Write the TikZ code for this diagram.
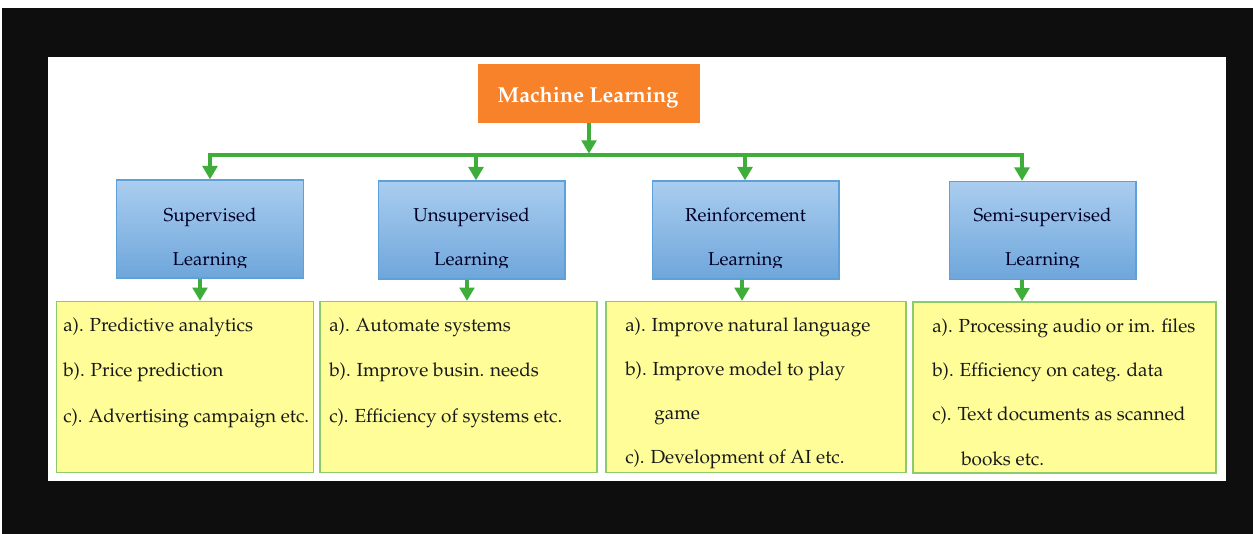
\documentclass[tikz,border=0pt]{standalone}
\usepackage[T1]{fontenc}
\renewcommand{\rmdefault}{ppl}
\usetikzlibrary{arrows.meta}
\definecolor{mlorange}{HTML}{F7822A}
\definecolor{agreen}{HTML}{3FAD3A}
\definecolor{bluetop}{HTML}{AACDEF}
\definecolor{bluebot}{HTML}{6EA6DB}
\definecolor{blueedge}{HTML}{5EA0DA}
\definecolor{yfill}{HTML}{FFFD98}
\definecolor{yedge}{HTML}{8CCB6A}
\definecolor{bg}{HTML}{0E0E0E}
\tikzset{
  px/.style={x=0.75pt,y=-0.75pt},
  mlbox/.style={fill=mlorange,draw=none,minimum width=166.5pt,minimum height=44pt,inner sep=0pt},
  bluebox/.style={draw=blueedge,line width=1pt,top color=bluetop,bottom color=bluebot,minimum width=140pt,minimum height=73.5pt,inner sep=0pt},
  bluetxt/.style={anchor=base,inner sep=0pt,text=black!85!blue,font=\fontsize{14}{16}\selectfont},
  ybox/.style={draw=yedge,line width=1.2pt,fill=yfill,minimum height=128pt,inner sep=0pt},
  ytxt/.style={anchor=base west,inner sep=0pt,text=black!90,font=\fontsize{14.2}{16}\selectfont},
  garrow/.style={draw=agreen,line width=3pt,-{Triangle[width=11pt,length=10pt]}},
  gline/.style={draw=agreen,line width=3pt}
}
\begin{document}
\begin{tikzpicture}[px]
\useasboundingbox (0,0) rectangle (1253,534);
\fill[white] (0,0) rectangle (1253,534);
\fill[bg] (2,8) rectangle (1253,534);
\fill[white] (48,57) rectangle (1226,481);
% root
\node[mlbox] (ml) at (589,93.5) {};
\node[anchor=base,inner sep=0pt,text=white,font=\bfseries\fontsize{16.2}{18}\selectfont] (mlt) at (588,103) {Machine Learning};
% blue boxes
\node[bluebox] (b1) at (210,229) {};
\node[bluebox] (b2) at (471.5,230) {};
\node[bluebox] (b3) at (745.5,230) {};
\node[bluebox] (b4) at (1042.5,230.5) {};
\foreach \b/\x/\t in {b1/210/Supervised,b2/471.5/Unsupervised,b3/745.5/Reinforcement,b4/1042.5/Semi-supervised}{
  \node[bluetxt] (\b t) at (\x,222) {\t};
  \begin{scope}
    \clip (\x-90,240) rectangle (\x+90,268);
    \node[bluetxt] (\b l) at (\x,266) {Learning};
  \end{scope}
}
% yellow boxes
\node[ybox,minimum width=193pt] (y1) at (185,387) {};
\node[ybox,minimum width=207.5pt] (y2) at (458.5,387) {};
\node[ybox,minimum width=225pt] (y3) at (756,387) {};
\node[ybox,minimum width=227pt] (y4) at (1064.5,387.5) {};
% texts
\node[ytxt] (t11) at (63,332) {a). Predictive analytics};
\node[ytxt] (t12) at (63,377) {b). Price prediction};
\node[ytxt] (t13) at (63,422) {c). Advertising campaign etc.};
\node[ytxt] (t21) at (329,332) {a). Automate systems};
\node[ytxt] (t22) at (329,377) {b). Improve busin. needs};
\node[ytxt] (t23) at (329,422) {c). Efficiency of systems etc.};
\node[ytxt] (t31) at (625,332) {a). Improve natural language};
\node[ytxt] (t32) at (625,376) {b). Improve model to play};
\node[ytxt] (t33) at (654,420) {game};
\node[ytxt] (t34) at (625,464) {c). Development of AI etc.};
\node[ytxt] (t41) at (932,333) {a). Processing audio or im. files};
\node[ytxt] (t42) at (932,377) {b). Efficiency on categ. data};
\node[ytxt] (t43) at (932,421) {c). Text documents as scanned};
\node[ytxt] (t44) at (961,465) {books etc.};
% connectors
\coordinate (hl) at (210,155);
\coordinate (hr) at (1022,155);
\coordinate (h2) at (476,155);
\coordinate (h3) at (745,155);
\coordinate (mlb) at (589,155);
\draw[gline] ([xshift=-1.5pt]hl) -- ([xshift=1.5pt]hr);
\draw[garrow] (ml.south) -- ([yshift=1pt]mlb);
\draw[garrow] (hl) -- (hl |- b1.north);
\draw[garrow] (h2) -- (h2 |- b2.north);
\draw[garrow] (h3) -- (h3 |- b3.north);
\draw[garrow] (hr) -- (hr |- b4.north);
\coordinate (d1) at (200,0);
\coordinate (d2) at (467,0);
\coordinate (d3) at (742,0);
\coordinate (d4) at (1022,0);
\draw[garrow] (d1 |- b1.south) -- (d1 |- y1.north);
\draw[garrow] (d2 |- b2.south) -- (d2 |- y2.north);
\draw[garrow] (d3 |- b3.south) -- (d3 |- y3.north);
\draw[garrow] (d4 |- b4.south) -- (d4 |- y4.north);
\end{tikzpicture}
\end{document}
